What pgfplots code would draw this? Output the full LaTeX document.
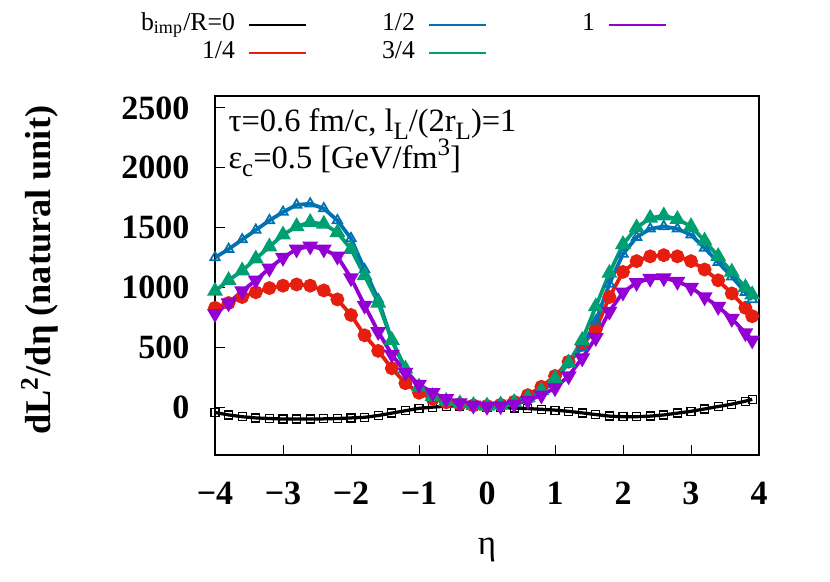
\documentclass[border=0pt]{standalone}
\usepackage{fontspec}
\setmainfont{Liberation Serif}
\usepackage{pgfplots}
\usepackage{pgfplotstable}
\pgfplotsset{compat=1.18}
\definecolor{cred}{HTML}{E51E10}
\definecolor{cblue}{HTML}{0072B2}
\definecolor{cgreen}{HTML}{009E73}
\definecolor{cpurple}{HTML}{9400D3}
\newcommand{\sub}[1]{\raisebox{-0.24em}{\fontsize{10}{10}\selectfont #1}}
\newcommand{\super}[1]{\raisebox{0.4em}{\fontsize{10}{10}\selectfont #1}}

\pgfplotstableread{
x    b0   b14  b12  b34  b1
-4.0 -45  830  1250 970  780
-3.8 -65  870  1320 1060 870
-3.6 -80  920  1400 1140 970
-3.4 -90  960  1480 1240 1060
-3.2 -95  995  1560 1340 1160
-3.0 -100 1015 1630 1440 1250
-2.8 -100 1025 1690 1510 1320
-2.6 -100 1015 1700 1545 1345
-2.4 -98  975  1660 1530 1320
-2.2 -95  900  1560 1460 1260
-2.0 -90  770  1410 1320 1080
-1.8 -85  600  1150 1100 850
-1.6 -70  470  900  870  630
-1.4 -50  325  560  560  440
-1.2 -30  200  320  320  290
-1.0 -10  120  170  170  190
-0.8 0    70   90   90   120
-0.6 8    40   50   50   70
-0.4 10   25   30   30   35
-0.2 5    15   15   15   15
0.0  0    10   10   10   5
0.2  -3   20   15   20   10
0.4  -8   45   35   40   25
0.6  -12  100  70   80   55
0.8  -18  170  130  140  100
1.0  -25  260  220  240  160
1.2  -35  380  370  370  260
1.4  -48  520  500  560  410
1.6  -62  650  720  840  580
1.8  -75  920  1030 1120 800
2.0  -80  1130 1280 1360 960
2.2  -80  1220 1420 1500 1040
2.4  -75  1260 1490 1580 1075
2.6  -65  1270 1510 1600 1080
2.8  -50  1260 1490 1570 1050
3.0  -35  1220 1440 1510 1000
3.2  -15  1150 1330 1390 920
3.4  5    1060 1210 1260 840
3.6  25   950  1090 1130 740
3.8  50   830  960  1000 620
3.9  65   760  900  940  560
}\data

\begin{document}
\begin{tikzpicture}
\begin{axis}[
  name=ax,
  scale only axis,
  width=217.6pt, height=143.6pt,
  xmin=-4, xmax=4, ymin=-400, ymax=2600,
  axis line style={line width=0.8pt},
  tick align=inside,
  tick pos=left,
  major tick length=4pt,
  tick style={black, line width=0.4pt},
  xtick={-4,-3,-2,-1,0,1,2,3,4},
  xticklabels={−4,−3,−2,−1,0,1,2,3,4},
  ytick={0,500,1000,1500,2000,2500},
  yticklabels={0,500,1000,1500,2000,2500},
  ticklabel style={font=\fontsize{13.6}{16}\selectfont\bfseries, inner sep=0pt},
  xticklabel style={anchor=north, yshift=-10.6pt},
  yticklabel style={anchor=east, xshift=-10pt},
  xlabel={η},
  ylabel={\bfseries dL\textsuperscript{2}/dη (natural unit)},
  xlabel style={font=\fontsize{14}{16}\selectfont, at={(axis description cs:0.5,-0.265)}, anchor=center},
  ylabel style={font=\fontsize{14.5}{17}\selectfont, at={(axis description cs:-0.322,0.515)}, anchor=center},
  legend plot pos=right,
  legend columns=3,
  legend image code/.code={\draw[#1] (0pt,0pt) -- (22.8pt,0pt);},
  legend style={draw=none, fill=none, inner sep=0pt, outer sep=0pt,
    at={(axis description cs:-0.1195,1.236)}, anchor=north west,
    font=\fontsize{10.3}{12}\selectfont,
    nodes={inner sep=0pt, text height=7.5pt, text depth=3.7pt},
    /tikz/every odd column/.append style={column sep=5.2pt},
    /tikz/every even column/.append style={column sep=9.2pt},
    row sep=0pt},
]
\addplot[black, line width=1.3pt, mark=square, mark size=1.6pt, mark options={line width=0.5pt}, forget plot] table[x=x, y=b0] {\data};
\addplot[cred, line width=1.5pt, mark=*, mark size=2pt, forget plot] table[x=x, y=b14] {\data};
\addplot[cblue, line width=1.5pt, mark=triangle, mark size=2.2pt, mark options={line width=0.7pt}, forget plot] table[x=x, y=b12] {\data};
\addplot[cgreen, line width=1.5pt, mark=triangle*, mark size=2.2pt, forget plot] table[x=x, y=b34] {\data};
\addplot[cpurple, line width=1.5pt, mark=triangle*, mark size=2.2pt, mark options={rotate=180}, forget plot] table[x=x, y=b1] {\data};

\addlegendimage{black, line width=0.8pt}
\addlegendentry{\makebox[34pt][r]{b\textsubscript{imp}/R=0}}
\addlegendimage{cblue, line width=0.8pt}
\addlegendentry{\makebox[34pt][r]{1/2}}
\addlegendimage{cpurple, line width=0.8pt}
\addlegendentry{\makebox[34pt][r]{1}}
\addlegendimage{cred, line width=0.8pt}
\addlegendentry{\makebox[34pt][r]{1/4}}
\addlegendimage{cgreen, line width=0.8pt}
\addlegendentry{\makebox[34pt][r]{3/4}}

\node[anchor=base west, inner sep=0pt, font=\fontsize{13}{15}\selectfont] at (axis description cs:0.024,0.9) {τ=0.6 fm/c, l\sub{L}/(2r\sub{L})=1};
\node[anchor=base west, inner sep=0pt, font=\fontsize{13}{15}\selectfont] at (axis description cs:0.024,0.797) {ε\sub{c}=0.5 [GeV/fm\super{3}]};
\end{axis}
\path ([xshift=-86pt,yshift=-50.4pt]ax.south west) rectangle ([xshift=28.4pt,yshift=38.4pt]ax.north east);
\end{tikzpicture}
\end{document}
